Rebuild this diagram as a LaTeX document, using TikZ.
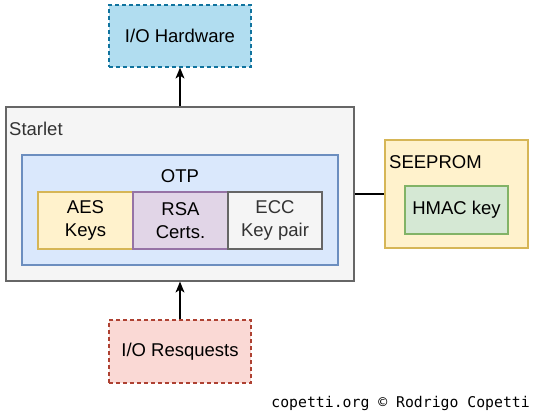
\documentclass[tikz,border=0pt]{standalone}
\usepackage{fontspec}
\setmainfont{Liberation Sans}
\newfontfamily\footfont{DejaVu Sans Mono}
\usetikzlibrary{arrows.meta}
\definecolor{hwfill}{HTML}{B1DDF0}\definecolor{hwdraw}{HTML}{10739E}
\definecolor{rqfill}{HTML}{FAD9D5}\definecolor{rqdraw}{HTML}{AE4132}
\definecolor{grfill}{HTML}{F5F5F5}\definecolor{grdraw}{HTML}{666666}
\definecolor{blfill}{HTML}{DAE8FC}\definecolor{bldraw}{HTML}{6C8EBF}
\definecolor{yefill}{HTML}{FFF2CC}\definecolor{yedraw}{HTML}{D6B656}
\definecolor{pufill}{HTML}{E1D5E7}\definecolor{pudraw}{HTML}{9673A6}
\definecolor{gnfill}{HTML}{D5E8D4}\definecolor{gndraw}{HTML}{82B366}
\definecolor{txgray}{HTML}{333333}
\tikzset{
  box/.style={rectangle, line width=1.2pt, inner sep=0pt, align=center,
    font=\fontsize{18.5}{23}\selectfont},
  dashbox/.style={box, dash pattern=on 4pt off 3pt},
  lbl/.style={inner sep=0pt, anchor=base west, font=\fontsize{18.5}{23}\selectfont},
  conn/.style={line width=1.3pt, -{Stealth[length=11pt,width=9pt,inset=3pt]}},
}
\begin{document}
\begin{tikzpicture}[x=1pt,y=-1pt]
\useasboundingbox (0,0) rectangle (534,416);
\node[dashbox, fill=hwfill, draw=hwdraw, minimum width=142pt, minimum height=62pt] (hw) at (180,36) {I/O Hardware};
\node[box, fill=grfill, draw=grdraw, minimum width=348pt, minimum height=174pt] (starlet) at (180,194) {};
\node[lbl, text=txgray] (starletlbl) at (9,135) {Starlet};
\node[box, fill=blfill, draw=bldraw, minimum width=316pt, minimum height=110pt] (otp) at (180,210) {};
\node[lbl, anchor=base] (otplbl) at (180,182) {OTP};
\node[box, fill=yefill, draw=yedraw, minimum width=95pt, minimum height=57pt] (aes) at (85.5,220.5) {AES\\Keys};
\node[box, fill=pufill, draw=pudraw, minimum width=95pt, minimum height=57pt] (rsa) at (180.5,220.5) {RSA\\Certs.};
\node[box, fill=grfill, draw=grdraw, text=txgray, minimum width=94pt, minimum height=57pt] (ecc) at (275,220.5) {ECC\\Key pair};
\node[box, fill=yefill, draw=yedraw, minimum width=143pt, minimum height=108pt] (seeprom) at (456.5,194) {};
\node[lbl] (seepromlbl) at (389,168) {SEEPROM};
\node[box, fill=gnfill, draw=gndraw, minimum width=103pt, minimum height=48pt] (hmac) at (456.5,210) {HMAC key};
\node[dashbox, fill=rqfill, draw=rqdraw, minimum width=142pt, minimum height=63pt] (req) at (180,351.5) {I/O Resquests};
\draw[conn] (starlet.north) -- (hw.south);
\draw[conn] (req.north) -- (starlet.south);
\draw[line width=1.3pt] (starlet.east) -- (seeprom.west);
\node[inner sep=0pt, anchor=base east, font=\footfont\fontsize{14.8}{16}\selectfont] (foot) at (530,407) {copetti.org © Rodrigo Copetti};
\end{tikzpicture}
\end{document}
